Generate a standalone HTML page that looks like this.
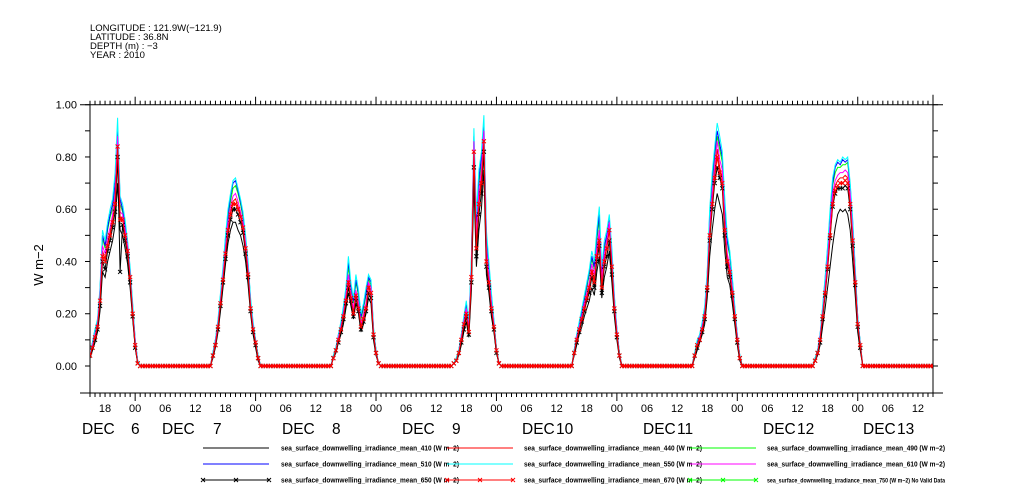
<!DOCTYPE html>
<html><head><meta charset="utf-8"><style>
html,body{margin:0;padding:0;background:#fff;}
svg{display:block;font-family:"Liberation Sans",sans-serif;}
</style></head><body>
<svg id="chart" width="1009" height="504" viewBox="0 0 1009 504" xmlns="http://www.w3.org/2000/svg">
<g font-size="9.5" fill="#000">
<text x="90" y="31">LONGITUDE : 121.9W(−121.9)</text>
<text x="90" y="40">LATITUDE : 36.8N</text>
<text x="90" y="49">DEPTH (m) : −3</text>
<text x="90" y="58">YEAR : 2010</text>
</g>
<text transform="translate(43,265) rotate(-90)" text-anchor="middle" font-size="13">W m−2</text>
<g id="axes"></g>
<defs><clipPath id="plotclip"><rect x="90" y="95" width="843" height="298"/></clipPath></defs>
<g id="series" clip-path="url(#plotclip)"></g>
<g id="legend"></g>
</svg>
<script>
const yTicks=[0,0.2,0.4,0.6,0.8,1.0];
const yTickLabels=["0.00","0.20","0.40","0.60","0.80","1.00"];
const hourLabels=["18","00","06","12"];
const dayNames=["DEC","DEC","DEC","DEC","DEC","DEC","DEC","DEC"];
const dayNums=["6","7","8","9","10","11","12","13"];
// values: 7 day windows x 20 half-hourly samples (15:00 .. 00:30 each day)
const s410=[0.03,0.06,0.09,0.13,0.21,0.36,0.34,0.40,0.44,0.48,0.54,0.70,0.52,0.50,0.45,0.39,0.30,0.18,0.07,0.01,
0.0,0.03,0.07,0.13,0.21,0.30,0.39,0.47,0.52,0.55,0.55,0.52,0.50,0.46,0.40,0.31,0.20,0.12,0.07,0.02,
0.0,0.03,0.05,0.09,0.12,0.16,0.22,0.28,0.23,0.18,0.24,0.20,0.13,0.16,0.20,0.26,0.24,0.10,0.04,0.01,
0.0,0.01,0.02,0.04,0.08,0.13,0.17,0.11,0.29,0.70,0.38,0.52,0.60,0.75,0.35,0.28,0.19,0.13,0.05,0.01,
0.0,0.04,0.08,0.12,0.15,0.19,0.22,0.25,0.30,0.27,0.36,0.42,0.26,0.34,0.38,0.44,0.32,0.19,0.10,0.03,
0.0,0.03,0.06,0.09,0.12,0.16,0.26,0.42,0.52,0.60,0.66,0.62,0.58,0.44,0.34,0.31,0.24,0.16,0.08,0.02,
0.0,0.02,0.04,0.08,0.15,0.22,0.30,0.38,0.46,0.53,0.58,0.60,0.59,0.60,0.58,0.52,0.40,0.27,0.13,0.06];
const s440=[0.04,0.08,0.12,0.16,0.26,0.44,0.41,0.47,0.51,0.56,0.63,0.82,0.57,0.57,0.51,0.45,0.35,0.21,0.09,0.01,
0.0,0.04,0.08,0.15,0.24,0.34,0.44,0.53,0.59,0.63,0.64,0.61,0.58,0.54,0.46,0.36,0.23,0.15,0.09,0.03,
0.0,0.03,0.06,0.10,0.14,0.19,0.26,0.33,0.27,0.21,0.28,0.23,0.16,0.19,0.23,0.31,0.29,0.12,0.05,0.01,
0.0,0.01,0.02,0.05,0.10,0.16,0.21,0.14,0.35,0.84,0.47,0.64,0.72,0.88,0.43,0.34,0.23,0.15,0.06,0.01,
0.0,0.05,0.10,0.14,0.18,0.23,0.27,0.31,0.37,0.33,0.43,0.50,0.31,0.41,0.46,0.53,0.39,0.23,0.12,0.04,
0.0,0.04,0.08,0.10,0.14,0.19,0.31,0.51,0.64,0.74,0.83,0.76,0.72,0.54,0.41,0.37,0.29,0.19,0.10,0.03,
0.0,0.02,0.05,0.10,0.19,0.29,0.39,0.52,0.64,0.69,0.71,0.72,0.72,0.73,0.72,0.64,0.49,0.33,0.16,0.08];
const s490=[0.05,0.09,0.13,0.17,0.28,0.49,0.45,0.52,0.57,0.60,0.68,0.88,0.62,0.59,0.53,0.46,0.36,0.22,0.09,0.02,
0.0,0.05,0.10,0.17,0.26,0.36,0.47,0.57,0.63,0.68,0.69,0.66,0.62,0.57,0.48,0.38,0.25,0.16,0.10,0.04,
0.0,0.04,0.07,0.11,0.16,0.21,0.28,0.38,0.30,0.24,0.32,0.27,0.18,0.22,0.27,0.33,0.31,0.14,0.06,0.01,
0.0,0.01,0.03,0.06,0.11,0.18,0.23,0.15,0.38,0.85,0.52,0.70,0.77,0.90,0.48,0.37,0.26,0.17,0.07,0.01,
0.0,0.06,0.11,0.16,0.20,0.25,0.30,0.35,0.41,0.37,0.48,0.56,0.35,0.45,0.49,0.55,0.42,0.25,0.13,0.05,
0.0,0.05,0.09,0.12,0.16,0.21,0.34,0.56,0.70,0.80,0.88,0.83,0.78,0.60,0.47,0.42,0.32,0.22,0.11,0.04,
0.0,0.03,0.06,0.11,0.22,0.32,0.44,0.57,0.69,0.74,0.76,0.76,0.77,0.77,0.78,0.68,0.54,0.36,0.18,0.09];
const s510=[0.05,0.09,0.14,0.17,0.29,0.50,0.46,0.53,0.58,0.62,0.70,0.90,0.64,0.60,0.54,0.47,0.37,0.23,0.10,0.02,
0.0,0.05,0.10,0.17,0.27,0.37,0.49,0.58,0.65,0.70,0.71,0.67,0.63,0.58,0.49,0.39,0.25,0.16,0.10,0.04,
0.0,0.04,0.07,0.12,0.16,0.22,0.29,0.40,0.31,0.25,0.33,0.28,0.19,0.23,0.28,0.34,0.32,0.14,0.06,0.01,
0.0,0.01,0.03,0.06,0.12,0.18,0.24,0.16,0.40,0.88,0.55,0.72,0.80,0.92,0.50,0.38,0.27,0.17,0.07,0.01,
0.0,0.06,0.12,0.16,0.21,0.26,0.31,0.36,0.42,0.38,0.50,0.58,0.36,0.46,0.50,0.56,0.43,0.26,0.14,0.05,
0.0,0.05,0.09,0.12,0.16,0.22,0.35,0.58,0.72,0.82,0.90,0.85,0.80,0.62,0.48,0.43,0.33,0.22,0.12,0.04,
0.0,0.03,0.06,0.12,0.22,0.33,0.45,0.58,0.70,0.76,0.78,0.77,0.79,0.78,0.79,0.69,0.55,0.37,0.19,0.09];
const s550=[0.05,0.09,0.14,0.18,0.30,0.52,0.48,0.55,0.60,0.64,0.74,0.95,0.65,0.62,0.56,0.48,0.38,0.24,0.10,0.02,
0.0,0.05,0.10,0.18,0.28,0.38,0.50,0.60,0.66,0.71,0.72,0.68,0.64,0.59,0.50,0.40,0.26,0.17,0.10,0.04,
0.0,0.04,0.07,0.12,0.17,0.23,0.30,0.42,0.32,0.26,0.35,0.29,0.20,0.24,0.30,0.35,0.33,0.15,0.06,0.01,
0.0,0.01,0.03,0.06,0.12,0.19,0.25,0.17,0.42,0.91,0.58,0.75,0.82,0.96,0.52,0.40,0.28,0.18,0.07,0.01,
0.0,0.06,0.12,0.17,0.22,0.27,0.32,0.37,0.44,0.40,0.52,0.61,0.38,0.48,0.52,0.58,0.45,0.27,0.14,0.05,
0.0,0.05,0.10,0.12,0.17,0.23,0.36,0.60,0.74,0.84,0.93,0.88,0.82,0.64,0.50,0.44,0.34,0.23,0.12,0.04,
0.0,0.03,0.06,0.12,0.23,0.34,0.46,0.60,0.72,0.77,0.79,0.78,0.80,0.79,0.80,0.70,0.56,0.38,0.19,0.09];
const s610=[0.04,0.08,0.12,0.16,0.27,0.46,0.43,0.49,0.53,0.58,0.66,0.88,0.59,0.58,0.52,0.46,0.35,0.21,0.09,0.01,
0.0,0.04,0.09,0.16,0.25,0.35,0.45,0.55,0.61,0.65,0.66,0.63,0.59,0.55,0.47,0.37,0.23,0.15,0.09,0.03,
0.0,0.03,0.06,0.11,0.15,0.20,0.27,0.35,0.28,0.22,0.29,0.24,0.16,0.20,0.24,0.32,0.30,0.13,0.05,0.01,
0.0,0.01,0.02,0.05,0.11,0.17,0.22,0.14,0.37,0.86,0.49,0.67,0.75,0.90,0.45,0.35,0.24,0.16,0.06,0.01,
0.0,0.05,0.11,0.15,0.19,0.24,0.28,0.32,0.39,0.35,0.45,0.52,0.33,0.43,0.48,0.55,0.40,0.24,0.13,0.04,
0.0,0.04,0.08,0.11,0.15,0.20,0.32,0.53,0.66,0.77,0.86,0.79,0.75,0.56,0.43,0.38,0.30,0.20,0.11,0.03,
0.0,0.02,0.05,0.11,0.20,0.30,0.41,0.54,0.66,0.71,0.73,0.74,0.74,0.75,0.74,0.66,0.51,0.34,0.17,0.08];
const s650=[0.04,0.07,0.10,0.14,0.23,0.40,0.37,0.44,0.48,0.53,0.59,0.80,0.36,0.54,0.48,0.42,0.32,0.19,0.07,0.01,
0.0,0.04,0.08,0.14,0.23,0.32,0.41,0.50,0.56,0.60,0.60,0.58,0.55,0.51,0.43,0.34,0.21,0.13,0.08,0.03,
0.0,0.03,0.06,0.09,0.13,0.18,0.24,0.30,0.25,0.19,0.26,0.21,0.14,0.17,0.21,0.28,0.26,0.11,0.05,0.01,
0.0,0.01,0.02,0.05,0.09,0.14,0.19,0.12,0.32,0.76,0.42,0.58,0.66,0.82,0.38,0.30,0.21,0.14,0.05,0.01,
0.0,0.05,0.09,0.13,0.17,0.21,0.25,0.28,0.34,0.30,0.40,0.46,0.28,0.38,0.42,0.48,0.35,0.21,0.11,0.04,
0.0,0.04,0.07,0.10,0.13,0.18,0.29,0.48,0.60,0.70,0.76,0.72,0.68,0.50,0.38,0.34,0.27,0.18,0.09,0.03,
0.0,0.02,0.05,0.09,0.18,0.27,0.37,0.49,0.61,0.66,0.68,0.68,0.68,0.69,0.68,0.60,0.46,0.31,0.15,0.07];
const s670=[0.04,0.07,0.11,0.15,0.25,0.42,0.40,0.46,0.50,0.55,0.62,0.84,0.56,0.56,0.50,0.44,0.34,0.20,0.08,0.01,
0.0,0.04,0.08,0.15,0.24,0.33,0.43,0.52,0.58,0.62,0.62,0.60,0.57,0.53,0.45,0.35,0.22,0.14,0.09,0.03,
0.0,0.03,0.06,0.10,0.14,0.19,0.25,0.32,0.26,0.20,0.27,0.22,0.15,0.18,0.22,0.30,0.28,0.12,0.05,0.01,
0.0,0.01,0.02,0.05,0.10,0.16,0.20,0.13,0.34,0.82,0.45,0.62,0.70,0.86,0.40,0.32,0.22,0.15,0.06,0.01,
0.0,0.05,0.10,0.14,0.18,0.22,0.26,0.30,0.36,0.32,0.42,0.48,0.30,0.40,0.45,0.52,0.38,0.22,0.12,0.04,
0.0,0.04,0.08,0.10,0.14,0.19,0.30,0.50,0.62,0.72,0.80,0.74,0.70,0.52,0.40,0.36,0.28,0.19,0.10,0.03,
0.0,0.02,0.05,0.10,0.19,0.28,0.38,0.50,0.62,0.67,0.69,0.70,0.70,0.71,0.70,0.62,0.48,0.32,0.16,0.08];

const NS="http://www.w3.org/2000/svg";
const X0=90,X1=933,T0=0,T1=168;
const Y0=366,Y1=104.7;
const FT=104.7,FB=393;
function xs(t){return X0+(t-T0)/(T1-T0)*(X1-X0);}
function ys(v){return Y0+(Y1-Y0)*v;}
function mk(tag,attrs,parent){const e=document.createElementNS(NS,tag);for(const k in attrs)e.setAttribute(k,attrs[k]);parent.appendChild(e);return e;}

const axes=document.getElementById('axes');
let e=mk('line',{x1:80,y1:FT,x2:943,y2:FT,stroke:'#000','stroke-width':1},axes);

e=mk('line',{x1:80,y1:FB,x2:943,y2:FB,stroke:'#000','stroke-width':1},axes);

e=mk('line',{x1:X0,y1:FT,x2:X0,y2:FB,stroke:'#000','stroke-width':1},axes);

e=mk('line',{x1:X1,y1:FT-10,x2:X1,y2:FB,stroke:'#000','stroke-width':1},axes);

for(let v=0;v<=10;v++){
  const y=ys(v/10);
  e=mk('line',{x1:X0-5,y1:y,x2:X0,y2:y,stroke:'#000'},axes);
  
  e=mk('line',{x1:X1,y1:y,x2:X1+5,y2:y,stroke:'#000'},axes);
  
}
yTicks.forEach((v,i)=>{
  const t=mk('text',{x:77,y:ys(v)+4,'text-anchor':'end','font-size':11},axes);
  t.textContent=yTickLabels[i];
  
});
for(let h=0;h<=168;h++){
  const x=xs(h);const clock=(15+h)%24;const major=clock===0;
  e=mk('line',{x1:x,y1:FB,x2:x,y2:FB+(major?8:4),stroke:'#000'},axes);
  
  e=mk('line',{x1:x,y1:FT,x2:x,y2:FT-(major?8:4),stroke:'#000'},axes);
  
  if(clock%6===0&&h>0&&h<168){
    const t=mk('text',{x:x,y:412,'text-anchor':'middle','font-size':11},axes);
    t.textContent=hourLabels[[18,0,6,12].indexOf(clock)];
    
  }
}
// date label layout (pixel positions of "DEC" and day number)
const decLeft=[82,162,282,402,522,643,763,863];
const numLeft=[131,213,332,452,556,677,797,897];
dayNums.forEach((n,i)=>{
  const t=mk('text',{x:decLeft[i],y:434,'font-size':15.5},axes);
  t.textContent=dayNames[i];
  
  const t2=mk('text',{x:numLeft[i],y:434,'font-size':15.5},axes);
  t2.textContent=n;
  
});

const seriesList=[
 {d:s410,c:'#000',m:false,n:'series-410'},
 {d:s440,c:'#f00',m:false,n:'series-440'},
 {d:s490,c:'#0f0',m:false,n:'series-490'},
 {d:s510,c:'#00f',m:false,n:'series-510'},
 {d:s550,c:'#0ff',m:false,n:'series-550'},
 {d:s610,c:'#f0f',m:false,n:'series-610'},
 {d:s650,c:'#000',m:true,n:'series-650'},
 {d:s670,c:'#f00',m:true,n:'series-670'}];
function val(arr,t){const d=Math.floor(t/24),h=t-24*d;if(d<7&&h<10){const v=arr[d*20+Math.round(h*2)];return v===undefined?0:v;}return 0;}
const sg=document.getElementById('series');
seriesList.forEach(s=>{
  const g=mk('g',{},sg);
  
  let pts=[];
  for(let i=0;i<=336;i++){const t=i*0.5;pts.push([xs(t),ys(val(s.d,t))]);}
  const p=mk('polyline',{points:pts.map(q=>q[0].toFixed(1)+','+q[1].toFixed(1)).join(' '),fill:'none',stroke:s.c,'stroke-width':1},g);
  
  if(s.m){
    let dd='';pts.forEach(q=>{dd+=`M${q[0]-2},${q[1]-2}L${q[0]+2},${q[1]+2}M${q[0]-2},${q[1]+2}L${q[0]+2},${q[1]-2}`;});
    const mp=mk('path',{d:dd,stroke:s.c,'stroke-width':1,fill:'none'},g);
    
  }
});

const leg=document.getElementById('legend');
const legendItems=[
 ['#000',false,'sea_surface_downwelling_irradiance_mean_410 (W m−2)',0,0],
 ['#f00',false,'sea_surface_downwelling_irradiance_mean_440 (W m−2)',1,0],
 ['#0f0',false,'sea_surface_downwelling_irradiance_mean_490 (W m−2)',2,0],
 ['#00f',false,'sea_surface_downwelling_irradiance_mean_510 (W m−2)',0,1],
 ['#0ff',false,'sea_surface_downwelling_irradiance_mean_550 (W m−2)',1,1],
 ['#f0f',false,'sea_surface_downwelling_irradiance_mean_610 (W m−2)',2,1],
 ['#000',true,'sea_surface_downwelling_irradiance_mean_650 (W m−2)',0,2],
 ['#f00',true,'sea_surface_downwelling_irradiance_mean_670 (W m−2)',1,2],
 ['#0f0',true,'sea_surface_downwelling_irradiance_mean_750 (W m−2) No Valid Data',2,2]];
const colX=[203,447,690],colTX=[281,524,767],rowY=[448,464,480];
legendItems.forEach(it=>{
  const g=mk('g',{},leg);
  
  const x=colX[it[3]],y=rowY[it[4]];
  mk('line',{x1:x,y1:y,x2:x+66,y2:y,stroke:it[0],'stroke-width':1},g);
  if(it[1]){let dd='';[x,x+33,x+66].forEach(q=>{dd+=`M${q-2},${y-2}L${q+2},${y+2}M${q-2},${y+2}L${q+2},${y-2}`;});mk('path',{d:dd,stroke:it[0],fill:'none'},g);}
  const long=it[2].length>55;
  const t=mk('text',{x:colTX[it[3]],y:y+2.5,'font-size':long?6:7,'font-weight':'bold',textLength:178,lengthAdjust:'spacingAndGlyphs'},g);
  t.textContent=it[2];
});
</script>
</body></html>
